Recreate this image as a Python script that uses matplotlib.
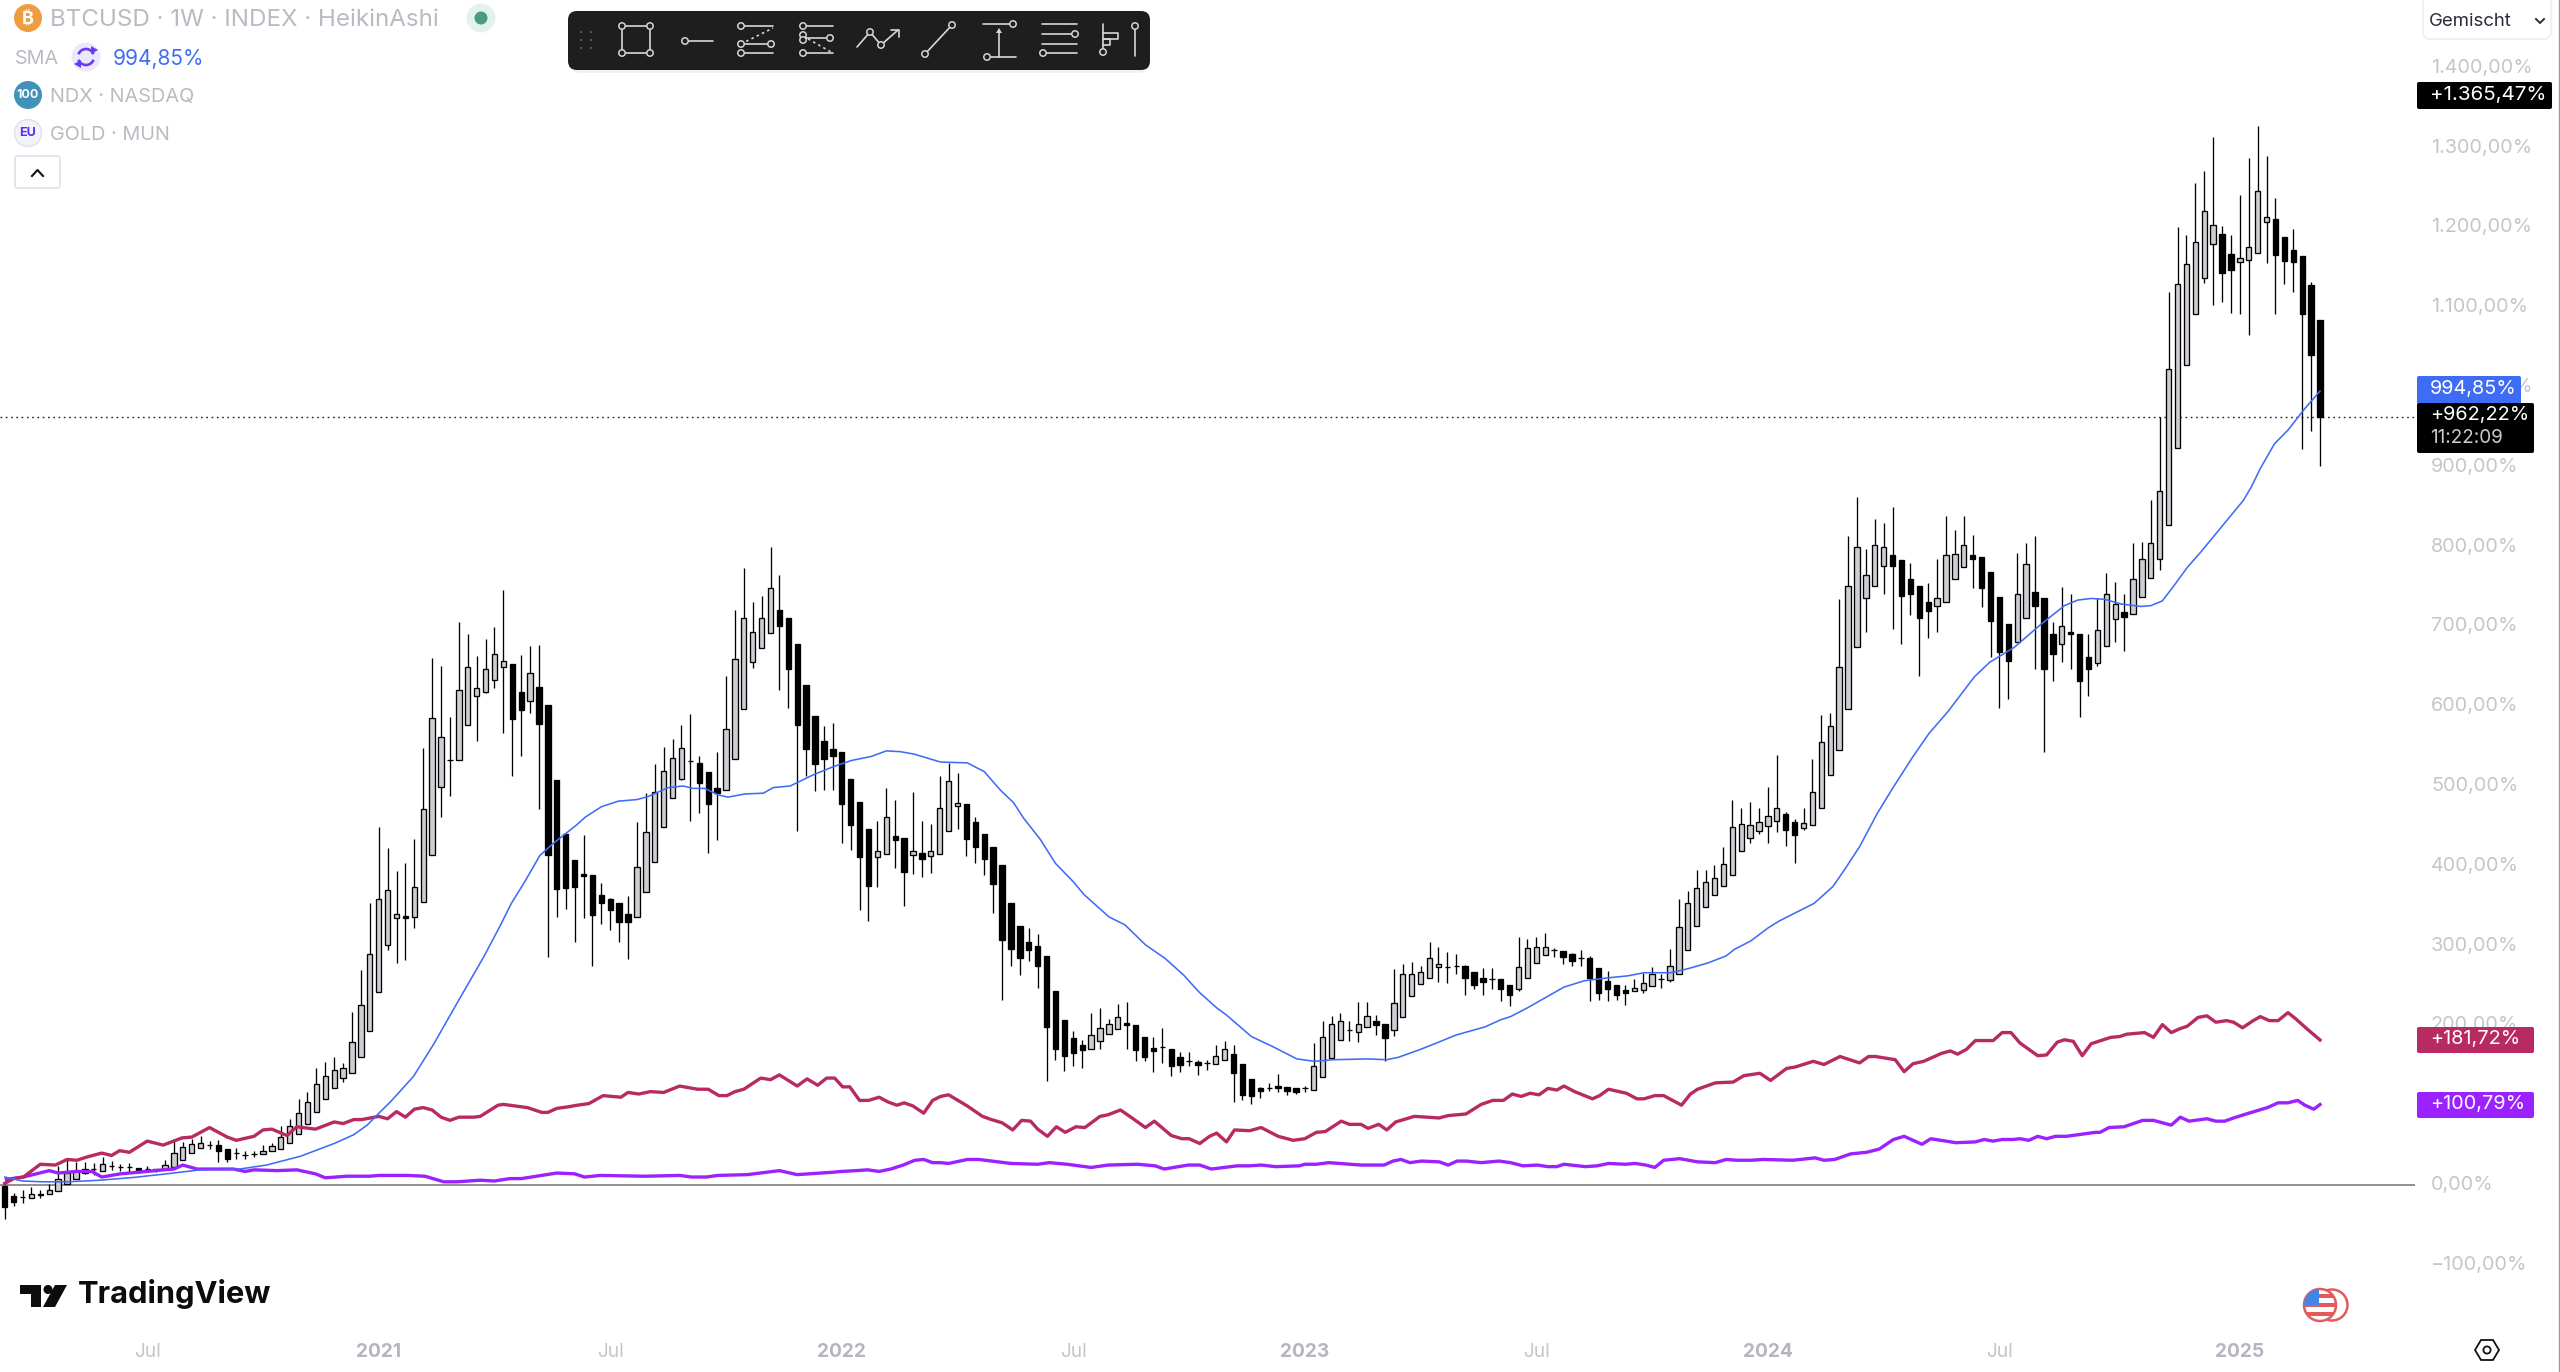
import matplotlib
matplotlib.use("Agg")
import matplotlib.pyplot as plt
from matplotlib.patches import Circle, FancyBboxPatch, Rectangle, Arc, Polygon
from matplotlib.ticker import FuncFormatter
from matplotlib.transforms import ScaledTranslation

plt.rcParams['font.family'] = ['Inter', 'DejaVu Sans']

# ---------- data: BTCUSD Heikin Ashi, weekly, % change ----------
btc_open = [
 -1,-14,-15,-16,-11,-11,-8,1,8,15,
 20,18,24,22,22,21,20,19,20,22,
 31,40,46,50,50,45,40,38,39,39,
 42,45,53,64,77,91,108,122,134,140,
 160,193,242,301,335,337,336,355,413,499,
 532,532,577,613,618,633,649,653,618,606,
 624,602,508,440,407,390,388,363,359,353,
 340,336,367,405,449,485,509,531,529,517,
 497,495,534,596,655,673,692,720,710,678,
 627,588,557,546,542,509,480,446,411,415,
 437,435,413,416,412,415,444,475,477,455,
 440,424,401,354,325,305,300,287,243,207,
 184,175,171,180,189,195,203,201,185,172,
 173,171,160,156,154,153,152,157,164,152,
 133,122,122,124,123,121,121,119,135,159,
 182,194,192,198,205,202,194,210,237,252,
 259,273,273,275,274,267,259,258,258,251,
 245,259,278,288,294,293,289,284,284,272,
 256,250,244,243,244,250,258,257,265,295,
 325,348,364,375,389,419,435,444,450,456,
 465,455,447,451,472,514,545,596,674,736,
 750,776,789,783,760,751,730,725,730,760,
 775,789,787,768,737,703,680,711,743,735,
 691,678,693,691,662,654,675,709,718,715,
 737,761,784,827,924,1027,1091,1137,1179,1192,
 1167,1157,1159,1168,1207,1210,1188,1172,1164,1128,1084]
btc_close = [
 -27,-21,-15,-11,-13,-6,8,15,18,20,
 20,26,24,22,22,17,20,20,25,40,
 47,52,53,50,43,32,40,38,39,43,
 49,60,74,90,104,126,136,144,146,179,
 225,290,359,370,339,334,373,471,585,562,
 532,620,649,623,646,665,657,584,595,641,
 578,413,371,372,374,387,338,354,345,329,
 329,398,442,492,519,535,548,531,504,478,
 491,572,659,711,693,710,748,701,646,576,
 546,527,534,538,477,451,411,375,418,461,
 432,392,418,409,418,472,506,479,433,424,
 409,377,307,296,285,294,274,198,171,162,
 166,169,188,197,202,210,200,169,160,168,
 173,149,150,156,150,153,162,171,140,113,
 111,118,122,121,118,117,121,149,185,202,
 205,194,202,212,200,184,228,264,265,267,
 284,277,273,275,259,251,255,258,245,238,
 273,297,298,298,294,286,281,284,260,240,
 245,238,240,247,253,264,258,274,323,354,
 372,380,385,402,448,452,451,455,463,473,
 445,438,454,492,555,575,649,751,799,764,
 802,800,776,738,741,710,719,735,789,791,
 802,785,748,707,668,657,741,778,726,646,
 666,700,690,632,647,695,741,728,712,759,
 784,804,870,1022,1129,1154,1182,1220,1203,1143,
 1147,1162,1176,1245,1213,1165,1158,1157,1092,1040,962.22]
btc_high = [
 0,-10,-6,-3,-6,1,24,31,29,29,
 27,35,30,26,27,21,24,20,31,58,
 54,58,62,55,57,45,46,43,42,50,
 53,74,83,108,116,147,154,160,153,217,
 270,354,448,422,394,404,434,548,661,650,
 587,705,690,663,684,699,746,653,664,676,
 677,602,508,440,407,438,388,378,360,353,
 362,455,491,528,549,559,576,590,537,517,
 543,638,720,773,731,738,799,765,710,678,
 627,588,575,579,542,509,480,446,456,497,
 483,435,492,456,453,513,529,516,477,461,
 440,424,401,354,325,322,314,287,243,207,
 193,182,216,222,208,227,229,201,185,185,
 197,171,167,167,157,157,175,180,176,152,
 133,123,128,139,123,121,124,178,205,212,
 216,206,229,229,213,202,271,277,280,275,
 305,298,292,289,276,267,272,272,258,251,
 311,308,311,316,297,293,291,294,287,272,
 268,250,251,258,266,273,265,296,359,369,
 395,395,401,424,483,472,480,472,499,539,
 468,459,472,534,589,591,734,813,862,797,
 835,830,849,783,780,751,754,784,838,821,
 838,815,787,768,737,703,792,805,813,735,
 706,749,741,691,691,736,767,756,740,804,
 806,859,963,1119,1200,1190,1256,1271,1313,1202,
 1191,1240,1287,1327,1289,1237,1188,1198,1164,1132,1084]
btc_low = [
 -43,-26,-23,-16,-16,-11,-8,1,8,14,
 13,18,19,17,15,15,16,16,20,22,
 31,40,46,45,29,29,33,33,35,39,
 42,45,53,64,77,91,108,122,129,140,
 160,193,242,294,278,282,322,355,413,461,
 488,532,577,557,616,623,567,513,537,591,
 471,286,336,346,304,335,275,327,319,305,
 283,336,367,405,449,485,507,456,466,416,
 432,495,534,596,648,673,692,620,598,443,
 513,494,495,495,429,420,345,331,373,415,
 397,349,390,386,391,415,444,446,412,403,
 389,341,232,274,263,281,247,130,157,143,
 149,146,171,171,189,195,171,155,156,142,
 153,137,142,149,138,144,152,157,104,107,
 102,109,118,116,113,114,117,119,135,159,
 182,181,179,198,188,156,187,210,237,252,
 259,255,253,265,238,245,238,246,230,224,
 243,259,278,288,286,277,274,275,230,232,
 231,232,226,243,240,250,247,255,265,295,
 325,348,364,375,389,419,428,440,428,442,
 425,403,445,451,472,514,545,596,674,693,
 750,741,697,678,714,638,685,693,730,760,
 775,748,724,662,598,609,680,711,646,542,
 632,655,647,586,613,651,675,680,669,715,
 737,761,771,827,924,1027,1091,1130,1103,1107,
 1093,1091,1065,1168,1155,1092,1129,1119,922,945,901]
assert len(btc_open) == len(btc_close) == len(btc_high) == len(btc_low) == 261

sma_weeks = [0,2,4.3,7,10.7,14.5,18.2,22,26.4,29.4,33.2,37,39.2,40.7,42.2,43.3,45.9,48.2,50.8,
 53.8,55.6,56.9,58.4,60.1,61.6,64.2,65.2,67,68.9,71,72.3,74.5,76.2,77.3,78.6,80.1,81.2,83.1,85.2,86.3,88.2,
 90.8,93,95.1,97.3,99,100.6,102.1,105.1,108.1,110,111.8,113.3,114.4,116.3,118,120,121.2,124,125.8,128.1,130.3,
 132.4,134.1,136.1,137.2,140,142.3,145.1,147.1,149.2,153.1,155.2,156.5,159,160.8,163,166.2,168,169.1,171,175.1,
 177.4,180.4,182.2,184.1,187.1,189,191.2,193.3,194.2,196.1,198,199.3,203.2,205.3,206.6,208.3,210.3,212,214.3,
 216.1,218.2,221.2,222.9,225.7,228.7,231.3,232.8,234.3,235.8,237.7,239.9,241,242.3,243.6,245.1,246.6,251.4,252.3,
 253.3,254.9,256.4,257.6,258.3,260]
sma_vals = [10,5,4,4,6,9.5,14,19,20,25,36,52,63,75,92,104,136,177,228,
 286,324,353,380,413,428,451,461,474,481,483,487,498,500,497,497,489,486,490,491,498,500,
 514,524,532,537,544,543,540,530,529,518,495,479,460,433,403,380,364,336,326,301,284,
 263,242,222,213,186,174,158,155,157,158,157,160,170,178,188,198,207,211,222,248,
 256,260,262,266,266,271,278,287,295,306,322,331,353,374,395,424,466,497,537,
 566,593,637,655,674,703,726,733,735,734,728,725,726,732,751,774,793,858,875,
 898,929,946,963,973,994.85]
assert len(sma_weeks) == len(sma_vals)

ndx_weeks = [0,1,2.1,4,5.7,7,8.1,9.2,10.9,12,12.9,14,16,17.8,19.9,21,23,25,26,28,29,30,31.7,32.8,34.9,37,38,39.2,40.1,42,43,44,45,46,47,48,49,50,51,52.7,53.4,
 55.4,56,58.7,60.3,61,62,63.3,64.3,65.6,67.2,69.2,70,71.2,72.5,74,75.8,77.8,79,80.2,81.1,82,83,84.9,86,87,89,90.1,91.3,92.3,93.2,94.1,94.9,96,97,98.2,99.2,100.2,101,102,103.2,104.2,105.1,106,108.1,109.8,110.8,112,113.2,114.2,115.2,116,117.1,118.1,119.1,120.3,121.3,123,123.9,125.3,126.6,128.1,129.1,131,132.2,133,134.2,135.3,136.1,137.2,138.1,139.8,141.1,143,144.7,146,147.3,148.3,150.1,151,152.3,153.1,154.3,155.2,156.2,
 158.3,161.1,162.1,164.1,165.8,167.1,168.3,169.3,170.3,171.3,172.3,173.3,174.3,175.1,176.3,178.3,179.1,180.1,182.1,183.3,184.1,185.3,186.3,188.3,189.3,190.1,192.1,194.1,195.3,197.1,198.3,200.1,201.1,203.1,204.3,206.1,208.3,209.3,210.1,212.3,213.3,214.3,215.5,217.5,218.5,219.3,220.3,221.3,223.3,224.3,225.3,226.3,227.3,228.3,229.3,230.5,231.3,232.3,233.3,234.3,236.5,237.5,238.3,240.3,241.3,242.3,243.3,244.3,245.1,246.3,247.3,248.3,249.5,250.3,251.3,252.5,253.3,254.3,255.3,256.4,257.3,258.5,260]
ndx_vals = [2,8,10,26,25,32,31,35,40,37,43,41,55,50,59,60,72,60,56,61,69,70,62,73,70,79,77,82,82,86,83,92,85,95,97,94,85,81,85,85,86,
 100,101,97,91,91,96,98,100,102,112,110,116,114,117,116,124,120,120,112,112,117,120,134,132,138,124,133,125,134,134,123,123,106,106,110,104,100,103,99,90,106,111,113,99,86,82,78,69,81,80,70,61,73,66,73,72,86,88,94,84,72,80,62,58,58,52,61,65,54,69,68,72,61,56,58,66,67,80,76,76,71,76,69,79,
 86,84,87,89,101,106,106,114,111,115,113,121,119,124,117,108,112,120,115,108,108,112,112,100,114,120,128,129,137,140,131,146,148,155,151,161,153,161,161,157,142,152,155,165,168,164,170,181,181,191,191,178,170,162,163,179,182,180,162,177,185,186,189,191,185,201,191,196,199,210,212,204,206,204,197,206,211,206,206,216,208,196,181.72]
assert len(ndx_weeks) == len(ndx_vals)

gold_weeks = [0.2,2.1,5,6,8.1,9.8,10.9,13,16,17.8,19,20,21.6,25.7,27,28,30.6,32.8,34.9,36,38.4,41,42,45.2,47.2,49.3,50.8,53.4,
 55,56.7,58,62,64,65.1,66.9,71.9,75.8,77.1,78.8,80.1,83.4,87,89,93,94,95.6,96.9,98.2,99.5,100.9,102.2,103.2,104.2,105.1,106,108.1,109.4,113,116,117.3,119.3,122,123.9,127.2,129.2,130.2,132.9,134.2,135.5,138.4,139.8,141.1,142.7,145.4,146,147.3,148.7,152.3,154.9,155.9,156.8,
 157.8,159.1,161.1,162.1,163.1,164.1,165.8,167.8,169.1,170.5,172.1,173.3,174.3,175.1,177.5,178.8,180.1,182,183.1,184.3,185.3,186.3,188.1,190.1,192.1,193.3,194.5,196.1,197.5,200.8,203.3,204.3,205.5,207.3,209.1,210.5,212.1,213.3,215.3,216.3,219.1,221.3,222.3,223.3,224.3,225.5,226.3,227.3,228.3,229.3,230.3,231.5,233.5,234.8,235.3,236.3,238,240.1,241.3,243.3,244.3,245.3,247.3,248.3,249.3,250.3,252,254.1,255.3,256.4,257.5,258.3,259.3,260]
gold_vals = [7,10,18,15,17,17,10,14,17,19,20,25,20,20,17,19,18,19,14,9,11,11,12,12,11,4,4,6,
 5,8,8,15,14,10,12,11,12,10,10,12,13,18,13,16,17,18,19,17,20,25,31,32,28,28,27,32,32,27,26,28,26,22,25,26,24,20,25,25,20,24,24,25,23,24,26,26,28,25,25,30,32,
 28,30,29,25,30,30,28,30,28,24,25,23,23,26,23,24,27,26,27,25,22,31,33,29,28,32,31,31,32,31,34,31,32,39,41,45,57,61,51,58,53,54,57,55,57,57,58,56,61,58,61,61,64,66,66,72,73,81,81,75,85,80,83,80,80,84,90,97,103,103,106,100,95,100.79]
assert len(gold_weeks) == len(gold_vals)

last_price = 962.22
price_ticks = [-100,0,100,200,300,400,500,600,700,800,900,1000,1100,1200,1300,1400]
time_weeks = [16,42,68,94,120,146,172,198,224,251]
time_labels = ['Jul','2021','Jul','2022','Jul','2023','Jul','2024','Jul','2025']

weeks = list(range(len(btc_open)))

# ---------- colours ----------
BLUE, RED, PURPLE = '#3f6cf5', '#b72a62', '#9c21ff'
AXIS_GREY, LEG_GREY = '#c4c6cc', '#b9bbc3'

W, H = 2560, 1372
fig = plt.figure(figsize=(W/100, H/100), dpi=100, facecolor='white')

# ---------- main chart ----------
PLOT_R, PLOT_B = 2415, 1322
ax = fig.add_axes([0, (H-PLOT_B)/H, PLOT_R/W, PLOT_B/H])
ax.set_xlim((0-4.7)/8.905, (PLOT_R-4.7)/8.905)
ax.set_ylim((1185-PLOT_B)/0.798, 1185/0.798)
for s in ax.spines.values():
    s.set_visible(False)

ax.axhline(0, color='#6f727d', lw=1.1, zorder=1)
ax.axhline(last_price, color='#222222', lw=1.0, ls=(0, (1.2, 2.6)), zorder=1)

ax.vlines(weeks, btc_low, btc_high, color='black', lw=0.95, zorder=2)
up = [c > o for o, c in zip(btc_open, btc_close)]
bot = [min(o, c) for o, c in zip(btc_open, btc_close)]
hgt = [abs(o - c) for o, c in zip(btc_open, btc_close)]
ax.bar(weeks, hgt, bottom=bot, width=0.6, zorder=3, linewidth=0.95,
       color=['#cdced3' if u else 'black' for u in up], edgecolor='black')

ax.plot(gold_weeks, gold_vals, color=PURPLE, lw=2.4, zorder=4, solid_joinstyle='round')
ax.plot(ndx_weeks, ndx_vals, color=RED, lw=2.4, zorder=4, solid_joinstyle='round')
ax.plot(sma_weeks, sma_vals, color=BLUE, lw=1.15, zorder=5)

ax.yaxis.tick_right()
ax.set_yticks(price_ticks)
ax.yaxis.set_major_formatter(FuncFormatter(
    lambda v, _: f"{v:,.2f}".replace(',', 'X').replace('.', ',').replace('X', '.').replace('-', '\u2212') + '%'))
ax.tick_params(axis='y', length=0, pad=11.5, labelsize=14.3, labelcolor=AXIS_GREY)
for t in ax.get_yticklabels():
    t.set_transform(t.get_transform() + ScaledTranslation(0, 2/100, fig.dpi_scale_trans))
ax.set_xticks(time_weeks)
ax.set_xticklabels(time_labels)
ax.tick_params(axis='x', length=0, pad=15, labelsize=13.8, labelcolor=AXIS_GREY)
for t, lab in zip(ax.get_xticklabels(), time_labels):
    if lab != 'Jul':
        t.set_fontweight('bold')
        t.set_color('#b4b6bf')

# ---------- interface layer in pixel coordinates ----------
ui = fig.add_axes([0, 0, 1, 1], zorder=10)
ui.set_xlim(0, W)
ui.set_ylim(H, 0)
ui.axis('off')
ui.patch.set_alpha(0)

def txt(x, y, s, size=14.3, color='black', ha='left', weight='normal'):
    return ui.text(x, y, s, fontsize=size, color=color, ha=ha, va='center', fontweight=weight)

def tag(x0, x1, y0, y1, color):
    ui.add_patch(FancyBboxPatch((x0+1, y0+1), x1-x0-2, y1-y0-2,
                                boxstyle='round,pad=1,rounding_size=2', fc=color, ec=color, lw=0))

# price tags
tag(2417, 2552, 82, 109, 'black');   txt(2430, 95, '+1.365,47%', color='white', size=14.8)
tag(2417, 2521, 376, 404, BLUE);     txt(2430, 389, '994,85%', color='white')
tag(2417, 2534, 403, 453, 'black');  txt(2430, 415, '+962,22%', color='white')
txt(2430, 438, '11:22:09', color='#c9cbd1', size=13.6)
tag(2417, 2534, 1027, 1053, RED);    txt(2430, 1039, '+181,72%', color='white')
tag(2417, 2534, 1092, 1118, PURPLE); txt(2430, 1104, '+100,79%', color='white')

# right border
ui.plot([2558.5, 2558.5], [0, H], color='#9a9a9a', lw=1.0)

# scale-mode button
ui.add_patch(FancyBboxPatch((2423, -8), 128, 47, boxstyle='round,pad=0,rounding_size=7',
                            fc='white', ec='#eceef1', lw=1.2))
txt(2429, 22, 'Gemischt', size=13.4, color='#2a2e39')
ui.plot([2536, 2540, 2544], [19, 23, 19], color='#2a2e39', lw=1.4)

# legend
LEG = 14.3
ui.add_patch(Circle((28, 18), 14, fc='#ef9b3f', ec='none'))
txt(28, 19, '\u20bf', size=13, color='white', ha='center', weight='bold')
txt(50, 20, 'BTCUSD \u00b7 1W \u00b7 INDEX \u00b7 HeikinAshi', size=17.4, color=LEG_GREY)
ui.add_patch(Circle((481, 18), 14.5, fc='#e4f2ed', ec='none'))
ui.add_patch(Circle((481, 18), 6.5, fc='#4a9c80', ec='none'))

txt(15, 59, 'SMA', size=14.2, color=LEG_GREY)
ui.add_patch(Circle((86, 57), 14.5, fc='#ece8fd', ec='none'))
ui.add_patch(Arc((86, 57), 16, 16, theta1=200, theta2=340, color='#6a3cf0', lw=1.9))
ui.add_patch(Arc((86, 57), 16, 16, theta1=20, theta2=160, color='#6a3cf0', lw=1.9))
ui.add_patch(Polygon([[91, 46], [98, 50], [91, 54]], fc='#6a3cf0', ec='none'))
ui.add_patch(Polygon([[81, 60], [74, 64], [81, 68]], fc='#6a3cf0', ec='none'))
txt(113, 59, '994,85%', size=15, color=BLUE)

ui.add_patch(Circle((28, 95), 14, fc='#4092b8', ec='none'))
txt(28, 95, '100', size=9, color='white', ha='center', weight='bold')
txt(50, 97, 'NDX \u00b7 NASDAQ', size=LEG, color=LEG_GREY)

ui.add_patch(Circle((28, 133), 13.5, fc='#f1f2fa', ec='#dfe1ea', lw=1))
txt(28, 133, 'EU', size=9, color='#5b2df0', ha='center', weight='bold')
txt(50, 135, 'GOLD \u00b7 MUN', size=LEG, color=LEG_GREY)

ui.add_patch(FancyBboxPatch((15, 156), 45, 32, boxstyle='round,pad=0,rounding_size=3',
                            fc='white', ec='#e0e3eb', lw=1.3))
ui.plot([32, 37.5, 43], [176, 170, 176], color='#111111', lw=1.5)

# drawing toolbar
ui.add_patch(FancyBboxPatch((570, 14), 578, 59, boxstyle='round,pad=0,rounding_size=9',
                            fc='#d8d8d8', ec='none', alpha=0.35))
ui.add_patch(FancyBboxPatch((568, 11), 582, 59, boxstyle='round,pad=0,rounding_size=9',
                            fc='#1e1e1e', ec='none'))
ICON = '#d6d6d6'
def line(xs, ys, **kw):
    ui.plot(xs, ys, color=kw.pop('color', ICON), lw=kw.pop('lw', 1.2), solid_capstyle='round', **kw)
def knob(x, y, r=3.2):
    ui.add_patch(Circle((x, y), r, fc='#1e1e1e', ec=ICON, lw=1.1, zorder=6))
for gx in (581, 591):
    for gy in (32, 40, 48):
        ui.add_patch(Circle((gx, gy), 1.2, fc='#555555', ec='none'))
# rectangle
line([622, 650, 650, 622, 622], [26, 26, 53, 53, 26])
for p in [(622, 26), (650, 26), (622, 53), (650, 53)]:
    knob(*p)
# ray
line([685, 713], [41, 41]); knob(685, 41)
# fib retracement
for yy in (26, 44, 53):
    line([741, 773], [yy, yy])
line([741, 773], [44, 28], ls=(0, (1.5, 2)))
knob(741, 26); knob(741, 44); knob(771, 44); knob(741, 53)
# trend-based fib
for yy in (26, 38, 53):
    line([803, 833], [yy, yy])
line([803, 831], [36, 52], ls=(0, (1.5, 2)))
knob(803, 26); knob(803, 35); knob(803, 40); knob(830, 38); knob(803, 53)
# polyline with arrow
line([857, 870, 881, 898], [47, 32, 45, 30])
line([891, 899, 899], [30, 30, 37])
knob(870, 32); knob(881, 45)
# trend line
line([925, 952], [54, 25]); knob(925, 54); knob(952, 25)
# measure
line([983, 1014], [24, 24]); line([987, 1016], [57, 57]); line([999, 999], [57, 30])
ui.add_patch(Polygon([[996, 33], [999, 28], [1002, 33]], fc=ICON, ec='none'))
knob(1013, 24); knob(987, 57)
# parallel lines
for yy in (24, 34, 44, 53):
    line([1042, 1077], [yy, yy])
knob(1075, 34); knob(1043, 53)
# volume profile
line([1103, 1103], [24, 50]); line([1103, 1118, 1118, 1103], [33, 33, 39, 39]); line([1103, 1110, 1110, 1103], [39, 39, 45, 45])
knob(1103, 52); line([1135, 1135], [28, 56]); knob(1135, 26)

# logo
ui.add_patch(Polygon([[20, 1285], [41, 1285], [41, 1307], [31, 1307], [31, 1294], [20, 1294]], fc='#0c0c0c', ec='none'))
ui.add_patch(Circle((48, 1289.5), 4.5, fc='#0c0c0c', ec='none'))
ui.add_patch(Polygon([[55, 1285], [67, 1285], [55, 1307], [43, 1307]], fc='#0c0c0c', ec='none'))
txt(78, 1294, 'TradingView', size=22.2, color='#0c0c0c', weight='bold')

# currency badge
ui.add_patch(Circle((2332, 1305), 15.5, fc='white', ec='#e25b5b', lw=1.8))
flag = Circle((2320, 1305), 16, fc='white', ec='#e25b5b', lw=1.8)
ui.add_patch(flag)
for yy in (1294, 1303, 1312):
    r = Rectangle((2300, yy), 40, 4, fc='#e25b5b', ec='none'); ui.add_patch(r); r.set_clip_path(flag)
r = Rectangle((2300, 1290), 19, 15, fc='#3f86e8', ec='none'); ui.add_patch(r); r.set_clip_path(flag)

# settings glyph
ui.add_patch(Polygon([[2481, 1340], [2493, 1340], [2499, 1350], [2493, 1360], [2481, 1360], [2475, 1350]],
                     fc='white', ec='#111111', lw=1.3))
ui.add_patch(Circle((2487, 1350), 3.6, fc='white', ec='#111111', lw=1.3))

fig.savefig('out.png', dpi=100, facecolor='white')
